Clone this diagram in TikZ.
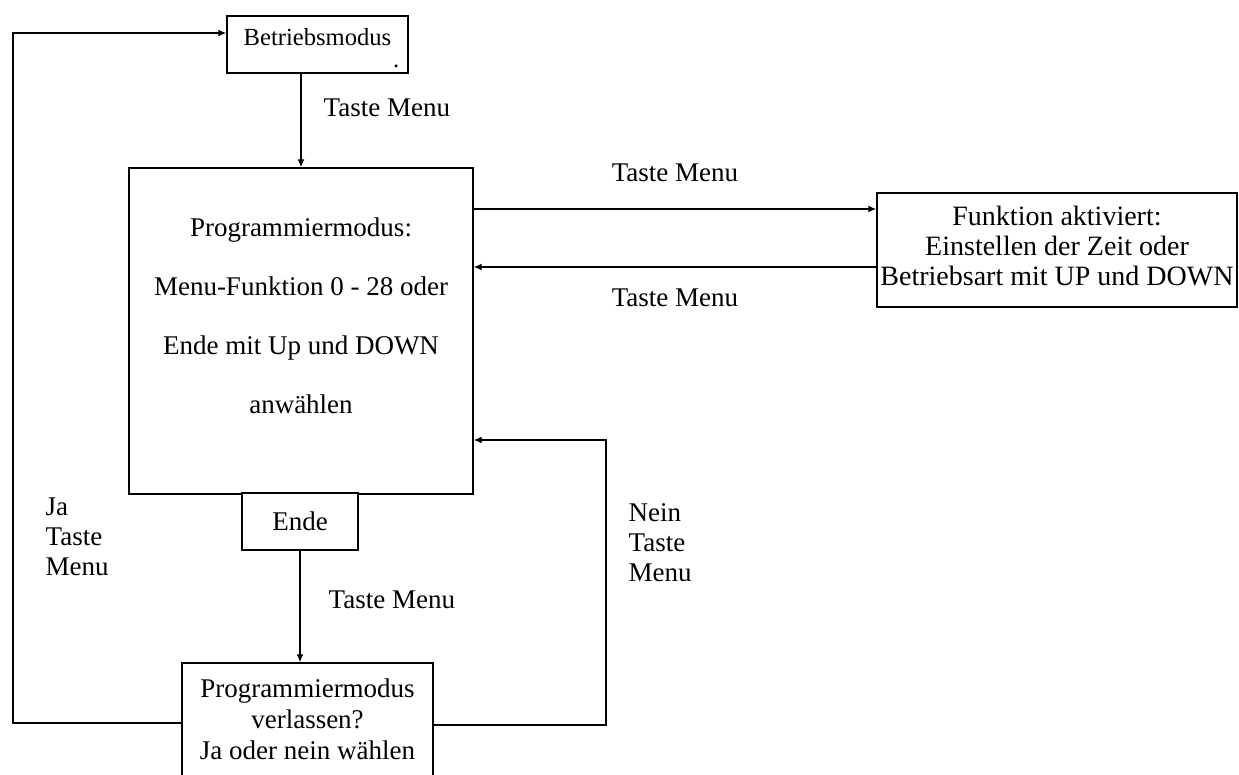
\documentclass[tikz,border=0pt]{standalone}
\usepackage{fontspec}
\setmainfont{Liberation Serif}
\usetikzlibrary{arrows.meta}

\begin{document}
\begin{tikzpicture}[x=0.5pt,y=-0.5pt,
  line width=0.7pt,box node/.style={draw,rectangle,align=center,inner sep=0pt,font=\fontsize{13.5}{15.5}\selectfont},
  label node/.style={inner sep=0pt,align=left,font=\fontsize{13.5}{15}\selectfont},
  arr/.style={-{Latex[length=4pt,width=3.5pt]}}]

  \useasboundingbox (0,0) rectangle (1239,775);

  % the \mbox{} lines only move the text up or down in its box
  \node[box node,align=right,minimum width=90.5pt,minimum height=28.5pt,font=\fontsize{12.3}{14}\selectfont] (betrieb) at (317.5,44.5){\mbox{}\\[-1.5pt]Betriebsmodus\\[-3pt].\hspace*{-4pt}};
  \node[box node,minimum width=172pt,minimum height=163pt,font=\fontsize{13.5}{29.5}\selectfont] (main) at (301,331){Programmiermodus:\\Menu-Funktion 0 - 28 oder\\Ende mit Up und DOWN\\anwählen\\[-14.5pt]\mbox{}};
  \node[box node,fill=white,minimum width=58pt,minimum height=28.5pt] (ende) at (300,521.5){Ende};
  \node[box node,minimum width=125.5pt,minimum height=56.5pt] (exit) at (307.5,719.5){Programmiermodus\\verlassen?\\Ja oder nein wählen};
  \node[box node,minimum width=180pt,minimum height=57pt,font=\fontsize{14}{15}\selectfont] (func) at (1057,250){Funktion aktiviert:\\Einstellen der Zeit oder\\Betriebsart mit UP und DOWN\\[-11pt]\mbox{}};

  \node[label node,anchor=west] (ja) at (45,537){Ja\\Taste\\Menu};
  \node[label node,anchor=west] (nein) at (628,543){Nein\\Taste\\Menu};

  \coordinate (hin) at (0,209);
  \coordinate (rueck) at (0,267);
  \coordinate (jaunten) at (13,723);
  \coordinate (jaoben) at (13,33);
  \coordinate (neinunten) at (606,725);
  \coordinate (neinoben) at (606,440);

  \path[arr,every node/.style={label node}]
    (main.north |- betrieb.south) edge node[pos=0.36,right=11pt]{Taste Menu} (main.north)
    (main.east |- hin) edge node[above=13.5pt]{Taste Menu} (func.west |- hin)
    (func.west |- rueck) edge node[below=10.5pt]{Taste Menu} (main.east |- rueck)
    (ende.south) edge node[pos=0.44,right=14pt]{Taste Menu} (exit.north -| ende.south);

  \draw[arr] (exit.west |- jaunten) -- (jaunten) -- (jaoben) -- (betrieb.west |- jaoben);
  \draw[arr] (exit.east |- neinunten) -- (neinunten) -- (neinoben) -- (main.east |- neinoben);
\end{tikzpicture}
\end{document}
